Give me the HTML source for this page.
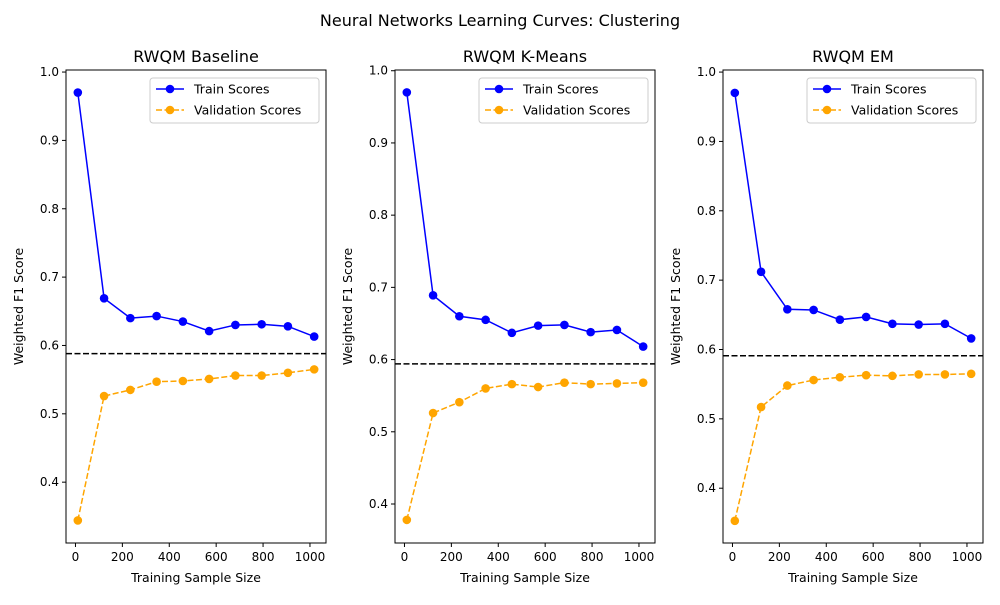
<!DOCTYPE html>
<html><head><meta charset="utf-8"><style>
body{margin:0;background:#fff;font-family:"Liberation Sans","DejaVu Sans",sans-serif}
svg text{font-family:"DejaVu Sans","Liberation Sans",sans-serif}
</style></head><body>
<svg id="chart" width="1000" height="600" xmlns="http://www.w3.org/2000/svg"></svg>
<script>
const titles=["RWQM Baseline","RWQM K-Means","RWQM EM"];
const sizes=[10,122,234,346,458,570,682,794,906,1018];
const train1=[0.970,0.669,0.640,0.643,0.635,0.621,0.630,0.631,0.628,0.613];
const val1=[0.344,0.526,0.535,0.547,0.548,0.551,0.556,0.556,0.560,0.565];
const train2=[0.970,0.689,0.660,0.655,0.637,0.647,0.648,0.638,0.641,0.618];
const val2=[0.378,0.526,0.541,0.560,0.566,0.562,0.568,0.566,0.567,0.568];
const train3=[0.970,0.712,0.658,0.657,0.643,0.647,0.637,0.636,0.637,0.616];
const val3=[0.353,0.517,0.548,0.556,0.560,0.563,0.562,0.564,0.564,0.565];
const baselines=[0.588,0.594,0.591];
const yTicks=[0.4,0.5,0.6,0.7,0.8,0.9,1.0];
const xTicks=[0,200,400,600,800,1000];
const trains=[train1,train2,train3], vals=[val1,val2,val3];
const ylims=[[0.311,1.003],[0.346,1.001],[0.321,1.003]];
const lefts=[66,395,723];
const W=260,T=70,B=543;
const svg=document.getElementById('chart');
const NS="http://www.w3.org/2000/svg";
function mk(tag,attrs,parent,text){const e=document.createElementNS(NS,tag);for(const k in attrs)e.setAttribute(k,attrs[k]);if(text!==undefined)e.textContent=text;(parent||svg).appendChild(e);return e;}
let t=mk('text',{x:500,y:26,'text-anchor':'middle','font-size':16},svg,"Neural Networks Learning Curves: Clustering");

const xmin=-40.4,xmax=1068.4;
for(let p=0;p<3;p++){
  const L=lefts[p];const [y0,y1]=ylims[p];
  const g=mk('g',{});
  const xs=v=>L+(v-xmin)/(xmax-xmin)*W;
  const ys=v=>B-(v-y0)/(y1-y0)*(B-T);
  let e=mk('text',{x:L+W/2,y:62,'text-anchor':'middle','font-size':16},g,titles[p]);
  
  yTicks.forEach(v=>{const y=ys(v);mk('line',{x1:L-4,x2:L,y1:y,y2:y,stroke:'#000'},g);
    const tt=mk('text',{x:L-7,y:y+4,'text-anchor':'end','font-size':12},g,v.toFixed(1));
    });
  xTicks.forEach(v=>{const x=xs(v);mk('line',{x1:x,x2:x,y1:B,y2:B+4,stroke:'#000'},g);
    const tt=mk('text',{x:x,y:B+18,'text-anchor':'middle','font-size':12},g,String(v));
    });
  e=mk('text',{x:L+W/2,y:582,'text-anchor':'middle','font-size':12.5},g,"Training Sample Size");
  
  e=mk('text',{x:0,y:0,'text-anchor':'middle','font-size':12.5,transform:`translate(${L-43},${(T+B)/2}) rotate(-90)`},g,"Weighted F1 Score");
  
  e=mk('line',{x1:L,x2:L+W,y1:ys(baselines[p]),y2:ys(baselines[p]),stroke:'#000','stroke-width':1.5,'stroke-dasharray':'6,2.5'},g);
  
  const series=[[trains[p],'#0000ff','','train-scores-line'],[vals[p],'#ffa500','6,2.5','validation-scores-line']];
  series.forEach(([d,c,dash,name])=>{
    const pts=d.map((v,i)=>xs(sizes[i])+','+ys(v)).join(' ');
    const pl=mk('polyline',{points:pts,fill:'none',stroke:c,'stroke-width':1.5,'stroke-dasharray':dash},g);
    
    d.forEach((v,i)=>{const m=mk('circle',{cx:xs(sizes[i]),cy:ys(v),r:4.3,fill:c},g);
      });
  });
  e=mk('rect',{x:L,y:T,width:W,height:B-T,fill:'none',stroke:'#000','stroke-width':1},g);
  
  const lg=mk('g',{},g);
  const lx=L+W-176,ly=78;
  mk('rect',{x:lx,y:ly,width:169,height:45,rx:3,fill:'#fff',stroke:'#ccc'},lg);
  [['Train Scores','#0000ff',''],['Validation Scores','#ffa500','6,2.5']].forEach(([lab,c,dash],k)=>{
    const yy=ly+11+k*21;
    mk('line',{x1:lx+6,x2:lx+34,y1:yy,y2:yy,stroke:c,'stroke-width':1.5,'stroke-dasharray':dash},lg);
    mk('circle',{cx:lx+20,cy:yy,r:4.3,fill:c},lg);
    const le=mk('text',{x:lx+44,y:yy+4.5,'font-size':12.5},lg,lab);
    
  });
}
</script>
</body></html>
